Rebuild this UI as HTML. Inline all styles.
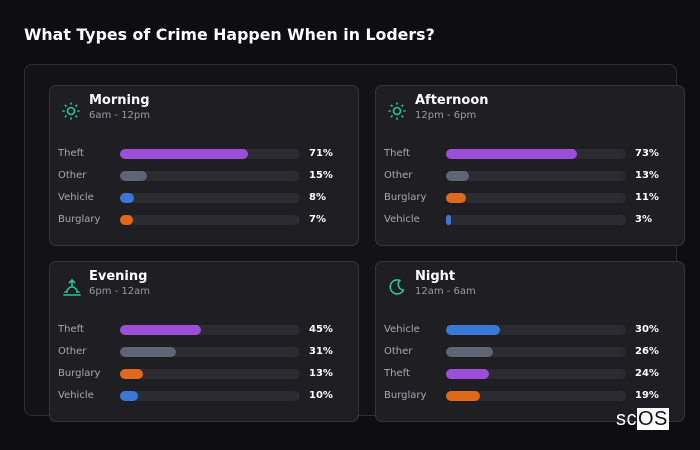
<!DOCTYPE html>
<html><head><meta charset="utf-8"><style>
body{margin:0;width:700px;height:450px;background:#0e0e12;font-family:"DejaVu Sans","Liberation Sans",sans-serif;position:relative;overflow:hidden;color:#fff}
#title{position:absolute;left:24px;top:25px;font-size:15.8px;font-weight:bold;color:#fff}
#outer{position:absolute;left:24px;top:64px;width:651px;height:350px;border:1px solid #2e2e34;border-radius:8px;background:#131317}
.card{position:absolute;width:310px;height:161px;background:#1e1e23;border:1px solid #34343a;border-radius:7px;box-sizing:border-box}
.ct{position:absolute;left:39px;top:7px;font-size:13px;font-weight:bold;color:#fff}
.cs{position:absolute;left:39px;top:24px;font-size:10px;color:#9a9aa2}
.ic{position:absolute;left:12px;top:16px}
.lab{position:absolute;left:8px;font-size:10px;color:#a8a8b0}
.trk{position:absolute;left:70px;width:180px;height:10px;border-radius:5px;background:#2b2b31}
.bar{position:absolute;left:0;top:0;height:10px;border-radius:5px}
.val{position:absolute;left:259px;font-size:10px;font-weight:bold;color:#fff}
#logo{position:absolute;z-index:5;left:616px;top:410px;font-size:20px;line-height:18px;color:#fff;font-family:"Liberation Sans",sans-serif;letter-spacing:0.5px}
#logo span{background:#fff;color:#111;padding:0 1px}
</style></head><body>
<div id="title">What Types of Crime Happen When in Loders?</div>
<div id="outer"></div>
<div id="logo">sc<span>OS</span></div>
<script>
const periods=["Morning","Afternoon","Evening","Night"];
const ranges=["6am - 12pm","12pm - 6pm","6pm - 12am","12am - 6am"];
const cats=[["Theft","Other","Vehicle","Burglary"],["Theft","Other","Burglary","Vehicle"],["Theft","Other","Burglary","Vehicle"],["Vehicle","Other","Theft","Burglary"]];
const vals=[[71,15,8,7],[73,13,11,3],[45,31,13,10],[30,26,24,19]];
const colors={Theft:"#9b4fd6",Other:"#5e6574",Vehicle:"#3a78d8",Burglary:"#e0681c"};
const pos=[[49,85],[375,85],[49,261],[375,261]];
const icons=[
'<svg width="18" height="18" viewBox="0 0 18 18"><circle cx="9" cy="9" r="3.5" fill="none" stroke="#2bc49a" stroke-width="1.6"/><g stroke="#2bc49a" stroke-width="1.6" stroke-linecap="round"><path d="M9 1v1M9 16v1M1 9h1M16 9h1M3.3 3.3l.7.7M14 14l.7.7M3.3 14.7l.7-.7M14 4l.7-.7"/></g></svg>',
null,
'<svg width="20" height="20" viewBox="0 0 20 20"><g stroke="#2bc49a" stroke-width="1.6" fill="none" stroke-linecap="round"><path d="M10 2v6M7.5 4.5L10 2l2.5 2.5M5 14a5 5 0 0 1 10 0M2 17h16M3 14h1M16 14h1"/></g></svg>',
'<svg width="18" height="18" viewBox="0 0 18 18"><path d="M12 2.5A7 7 0 1 0 15.5 12 5.5 5.5 0 0 1 12 2.5z" fill="none" stroke="#2bc49a" stroke-width="1.6" stroke-linejoin="round"/></svg>'];
icons[1]=icons[0];
const xs=v=>v/100*180;
periods.forEach((p,i)=>{
 const c=document.createElement('div');c.className='card';
 
 
 c.style.left=pos[i][0]+'px';c.style.top=pos[i][1]+'px';
 let h='<div class="ic">'+icons[i]+'</div><div class="ct">'+p+'</div><div class="cs">'+ranges[i]+'</div>';
 c.innerHTML=h;
 cats[i].forEach((k,j)=>{
  const y=63+j*22;
  const l=document.createElement('div');l.className='lab';l.textContent=k;l.style.top=(y-1)+'px';
  
  
  const t=document.createElement('div');t.className='trk';t.style.top=y+'px';
  
  
  const b=document.createElement('div');b.className='bar';b.style.width=xs(vals[i][j])+'px';b.style.background=colors[k];
  
  
  t.appendChild(b);
  const v=document.createElement('div');v.className='val';v.textContent=vals[i][j]+'%';v.style.top=(y-1)+'px';
  
  
  c.appendChild(l);c.appendChild(t);c.appendChild(v);
 });
 document.body.appendChild(c);
});
</script>
</body></html>
